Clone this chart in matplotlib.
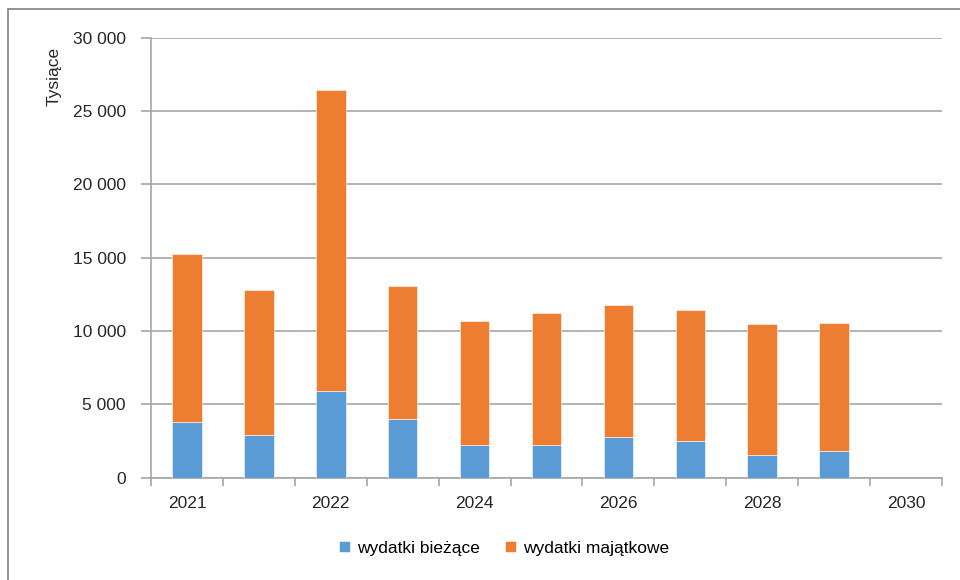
import matplotlib
matplotlib.use('Agg')
import matplotlib.pyplot as plt
from matplotlib.patches import Rectangle
from matplotlib.ticker import FuncFormatter

plt.rcParams['font.family'] = ['Liberation Sans', 'DejaVu Sans']

# dane w tysiącach zł
tick_labels = ['2021', '', '2022', '', '2024', '', '2026', '', '2028', '', '2030']
biezace = [3800, 2900, 5900, 3980, 2210, 2210, 2750, 2480, 1530, 1800, 0]
razem = [15230, 12780, 26430, 13070, 10700, 11230, 11750, 11410, 10460, 10530, 0]
majatkowe = [r - b for r, b in zip(razem, biezace)]

kolor_b = '#5B9BD5'
kolor_m = '#ED7D31'
szary = '#A6A6A6'

fig = plt.figure(figsize=(9.6, 5.8), dpi=100)
ax = fig.add_axes([151 / 960, 1 - 477.7 / 580, 791 / 960, 440 / 580])

x = list(range(len(tick_labels)))
ax.bar(x, biezace, width=0.41, color=kolor_b, label='wydatki bieżące', zorder=3,
       edgecolor='white', linewidth=0.4)
ax.bar(x, majatkowe, width=0.41, bottom=biezace, color=kolor_m, label='wydatki majątkowe',
       zorder=3, edgecolor='white', linewidth=0.4)

ax.set_xlim(-0.5, len(x) - 0.5)
ax.set_ylim(0, 30000)
ax.set_yticks(range(0, 30001, 5000))
ax.yaxis.set_major_formatter(FuncFormatter(lambda v, p: '{:,.0f}'.format(v).replace(',', ' ')))
ax.grid(axis='y', color=szary, linewidth=1.2, zorder=0)

# etykiety lat pod słupkami, kreski między kategoriami
ax.set_xticks(x)
ax.set_xticklabels(tick_labels)
ax.tick_params(axis='x', length=0, pad=13, labelsize=12.5, colors='#262626')
ax.set_xticks([i - 0.5 for i in range(len(x) + 1)], minor=True)
ax.tick_params(axis='x', which='minor', length=6, width=1.2, color=szary)
ax.tick_params(axis='y', length=7, width=1.2, color=szary, labelsize=12.5,
               labelcolor='#262626', pad=11)

for s in ['top', 'right']:
    ax.spines[s].set_visible(False)
ax.spines['left'].set_color(szary)
ax.spines['bottom'].set_color(szary)
ax.spines['left'].set_linewidth(1.2)
ax.spines['bottom'].set_linewidth(1.2)

fig.text(54 / 960, 1 - 76 / 580, 'Tysiące', rotation=90, ha='center', va='center',
         fontsize=12.5, color='#262626')

fig.legend(loc='center', bbox_to_anchor=(504 / 960, 1 - 548 / 580), ncol=2, frameon=False,
           fontsize=12.5, handlelength=0.65, handleheight=0.65, columnspacing=1.4,
           handletextpad=0.4)

# ramka wykresu
fig.patches.append(Rectangle((8 / 960, -0.01), 1.0, 1 - 9 / 580 + 0.01,
                             transform=fig.transFigure, fill=False,
                             edgecolor='#808080', linewidth=1.2))

fig.savefig('out.png', dpi=100)
